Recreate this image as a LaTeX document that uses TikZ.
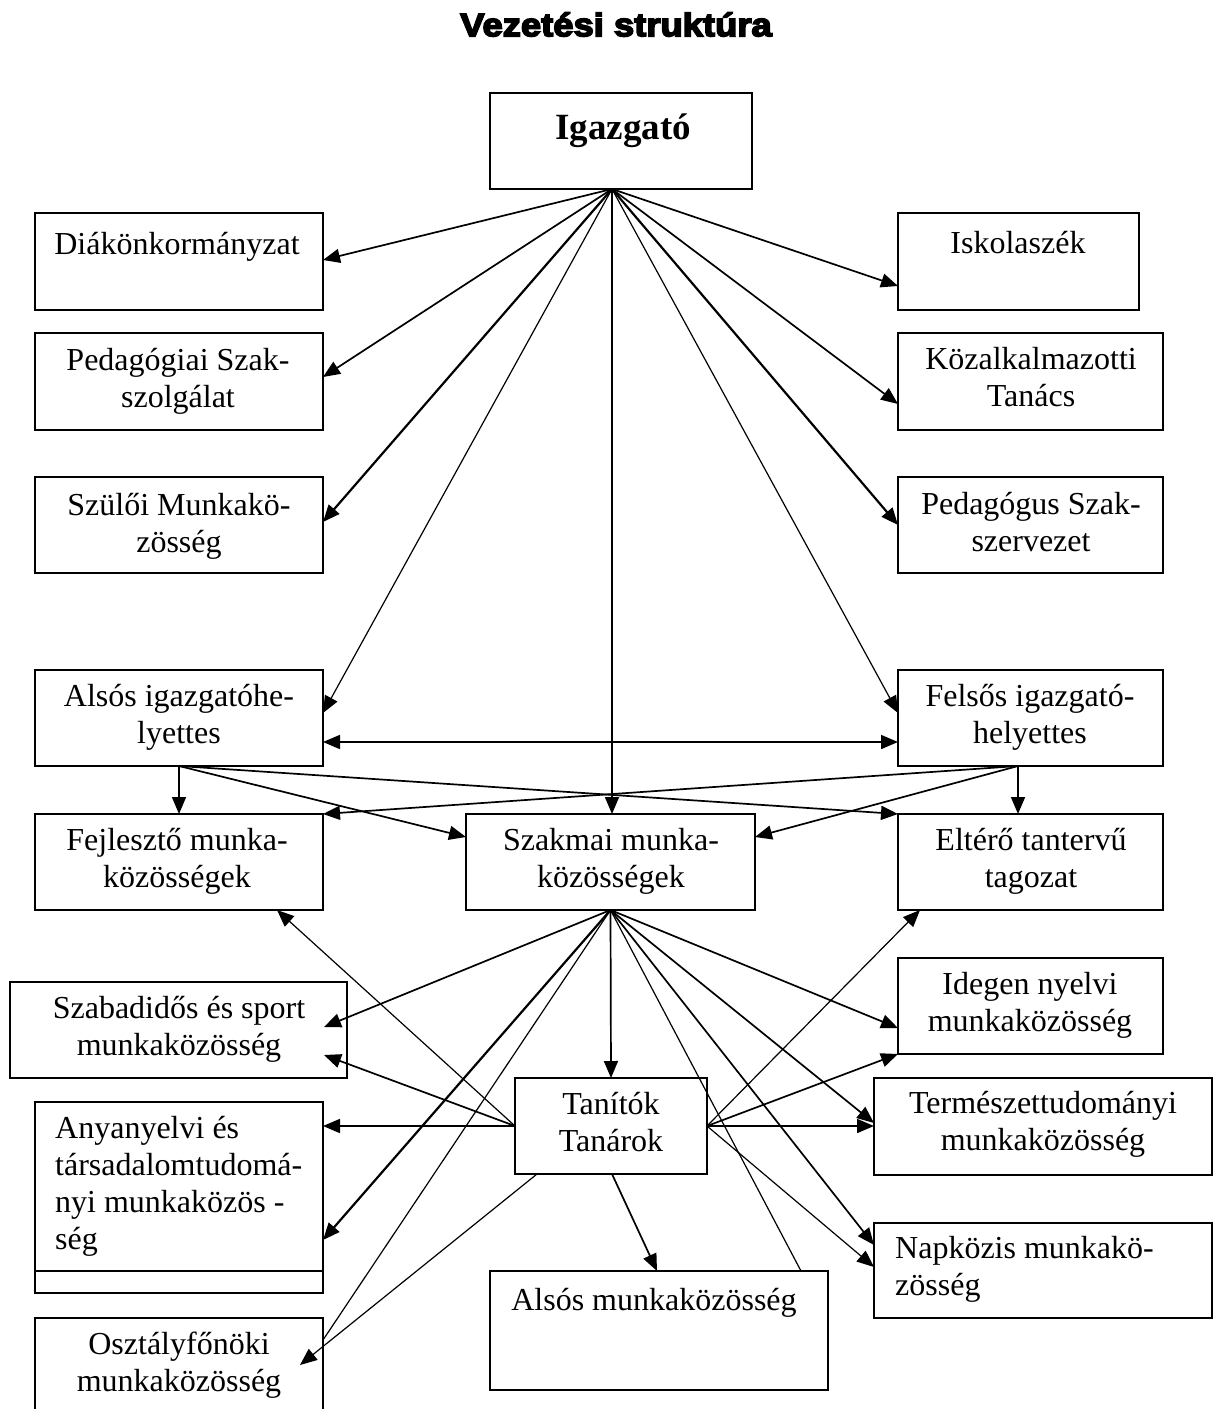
\documentclass[tikz,border=0pt]{standalone}
\usepackage{fontspec}
\setmainfont{Liberation Serif}
\newfontfamily\titlefont{Liberation Sans}[BoldFeatures={FakeBold=5,FakeStretch=1.12}]
\usetikzlibrary{arrows.meta,calc}

\tikzset{
  box/.style={draw, line width=1.9pt, inner sep=0pt, outer sep=0pt},
  lbl/.style={font=\fontsize{32}{37}\selectfont, align=center, inner sep=0pt,
              anchor=north, execute at begin node={\rule{0pt}{26pt}}},
  lblleft/.style={lbl, align=left, anchor=north west},
  conn/.style={line width=1.7pt},
  connthin/.style={line width=1.2pt},
  connbold/.style={line width=2.2pt},
  tip/.style={-{Triangle[length=17pt,width=14pt]}},
  bothtips/.style={{Triangle[length=17pt,width=14pt]}-{Triangle[length=17pt,width=14pt]}},
}

\begin{document}
\begin{tikzpicture}[x=1pt,y=-1pt]
\useasboundingbox (0,0) rectangle (1220,1409);
\fill[white] (0,0) rectangle (1220,1409);
\begin{scope}
\clip (0,0) rectangle (1220,1409);

% title
\node[inner sep=0pt, anchor=north] (title) at (616,10)
  {\titlefont\bfseries\fontsize{32.5}{36}\selectfont\rule{0pt}{26pt}Vezetési struktúra};

% boxes
\node[box, minimum width=262pt, minimum height=96pt] (igaz)   at (621,141) {};
\node[box, minimum width=288pt, minimum height=97pt] (diak)   at (179,261.5) {};
\node[box, minimum width=288pt, minimum height=97pt] (ped)    at (179,381.5) {};
\node[box, minimum width=288pt, minimum height=96pt] (szul)   at (179,525) {};
\node[box, minimum width=241pt, minimum height=97pt] (isk)    at (1018.5,261.5) {};
\node[box, minimum width=265pt, minimum height=97pt] (koz)    at (1030.5,381.5) {};
\node[box, minimum width=265pt, minimum height=96pt] (psz)    at (1030.5,525) {};
\node[box, minimum width=288pt, minimum height=96pt] (alsig)  at (179,718) {};
\node[box, minimum width=265pt, minimum height=96pt] (felsig) at (1030.5,718) {};
\node[box, minimum width=288pt, minimum height=96pt] (fejl)   at (179,862) {};
\node[box, minimum width=289pt, minimum height=96pt] (szakm)  at (610.5,862) {};
\node[box, minimum width=265pt, minimum height=96pt] (elt)    at (1030.5,862) {};
\node[box, minimum width=337pt, minimum height=96pt] (szab)   at (178.5,1030) {};
\node[box, minimum width=265pt, minimum height=96pt] (ideg)   at (1030.5,1006) {};
\node[box, minimum width=192pt, minimum height=96pt] (tan)    at (611,1126) {};
\node[box, minimum width=338pt, minimum height=97pt] (term)   at (1043,1126.5) {};
\node[box, minimum width=288pt, minimum height=191pt] (anya)  at (179,1197.5) {};
\node[box, minimum width=338pt, minimum height=95pt] (napk)   at (1043,1270.5) {};
\node[box, minimum width=338pt, minimum height=119pt] (alsmk) at (659,1330.5) {};
\node[box, minimum width=288pt, minimum height=110pt] (oszt)  at (179,1373) {};
\draw[line width=1.9pt] (anya.west |- 0,1271) -- (anya.east |- 0,1271);

% texts
\node[inner sep=0pt, anchor=north] (igaz-t) at (623,109)
  {\bfseries\fontsize{37}{42}\selectfont\rule{0pt}{30pt}Igazgató};
\node[lbl] (diak-t)   at (177,228)  {Diákönkormányzat};
\node[lbl] (ped-t)    at (178,348)  {Pedagógiai Szak-\\szolgálat};
\node[lbl] (szul-t)   at (179,493)  {Szülői Munkakö-\\zösség};
\node[lbl] (isk-t)    at (1018,227) {Iskolaszék};
\node[lbl] (koz-t)    at (1031,347) {Közalkalmazotti\\Tanács};
\node[lbl] (psz-t)    at (1031,492) {Pedagógus Szak-\\szervezet};
\node[lbl] (alsig-t)  at (179,684)  {Alsós igazgatóhe-\\lyettes};
\node[lbl] (felsig-t) at (1030,684) {Felsős igazgató-\\helyettes};
\node[lbl] (fejl-t)   at (177,828)  {Fejlesztő munka-\\közösségek};
\node[lbl] (szakm-t)  at (611,828)  {Szakmai munka-\\közösségek};
\node[lbl] (elt-t)    at (1031,828) {Eltérő tantervű\\tagozat};
\node[lbl] (szab-t)   at (179,996)  {Szabadidős és sport\\munkaközösség};
\node[lbl] (ideg-t)   at (1030,972) {Idegen nyelvi\\munkaközösség};
\node[lbl] (tan-t)    at (611,1092) {Tanítók\\Tanárok};
\node[lbl] (term-t)   at (1043,1091) {Természettudományi\\munkaközösség};
\node[lblleft] (anya-t) at (55,1116) {Anyanyelvi és\\társadalomtudomá-\\nyi munkaközös -\\ség};
\node[lblleft] (napk-t) at (895,1236) {Napközis munkakö-\\zösség};
\node[lbl] (alsmk-t)  at (654,1284) {Alsós munkaközösség};
\node[lbl] (oszt-t)   at (179,1332) {Osztályfőnöki\\munkaközösség};

% connector end points
\coordinate (igB)   at (igaz.south -| 612,0);
\coordinate (felsB) at (felsig.south -| 1018,0);
\coordinate (tanBL) at (tan.south -| 537,0);
\coordinate (tanB)  at (tan.south -| 612,0);
\coordinate (szabA) at (324,1027);
\coordinate (szabB) at (324,1055);
\coordinate (osztA) at (300,1365);

% from the director
\draw[conn, tip]     (igB) -- (diak.east |- 0,260);
\draw[conn, tip]     (igB) -- (ped.east |- 0,377);
\draw[connbold, tip] (igB) -- (szul.east |- 0,522);
\draw[connthin, tip] (igB) -- (alsig.east |- 0,713);
\draw[conn, tip]     (igB) -- (igB |- szakm.north);
\draw[connthin, tip] (igB) -- (felsig.west |- 0,713);
\draw[connbold, tip] (igB) -- (psz.west |- 0,525);
\draw[conn, tip]     (igB) -- (koz.west |- 0,404);
\draw[conn, tip]     (igB) -- (isk.west |- 0,286);

% deputies
\draw[conn, bothtips] (alsig.east |- 0,742) -- (felsig.west |- 0,742);
\draw[conn, tip] (alsig.south) -- (fejl.north);
\draw[conn, tip] (alsig.south) -- (szakm.west |- 0,837);
\draw[conn, tip] (alsig.south) -- (elt.north west);
\draw[conn, tip] (felsB) -- (felsB |- elt.north);
\draw[conn, tip] (felsB) -- (szakm.east |- 0,837);
\draw[conn, tip] (felsB) -- (fejl.north east);

% from the professional communities
\draw[conn, tip]     (szakm.south) -- (szabA);
\draw[connbold, tip] (szakm.south) -- (anya.east |- 0,1240);
\draw[connthin]      (szakm.south) -- (oszt.east |- 0,1340);
\draw[conn, tip]     (szakm.south) -- (tan.north);
\draw[connthin]      (szakm.south) -- (801,0 |- alsmk.north);
\draw[conn, tip]     (szakm.south) -- (napk.west |- 0,1245);
\draw[conn, tip]     (szakm.south) -- (term.west |- 0,1123);
\draw[conn, tip]     (szakm.south) -- (ideg.west |- 0,1028);

% from the teachers
\draw[connthin, tip] (tan.west) -- (277,0 |- fejl.south);
\draw[conn, tip]     (tan.west) -- (szabB);
\draw[conn, tip]     (tan.west) -- (anya.east |- tan.west);
\draw[connthin, tip] (tanBL) -- (osztA);
\draw[connthin, tip] (tan.east) -- (920,0 |- elt.south);
\draw[conn, tip]     (tan.east) -- (ideg.south west);
\draw[conn, tip]     (tan.east) -- (term.west |- tan.east);
\draw[connthin, tip] (tan.east) -- (napk.west |- 0,1267);
\draw[conn, tip]     (tanB) -- (657,0 |- alsmk.north);
\end{scope}
\end{tikzpicture}
\end{document}
